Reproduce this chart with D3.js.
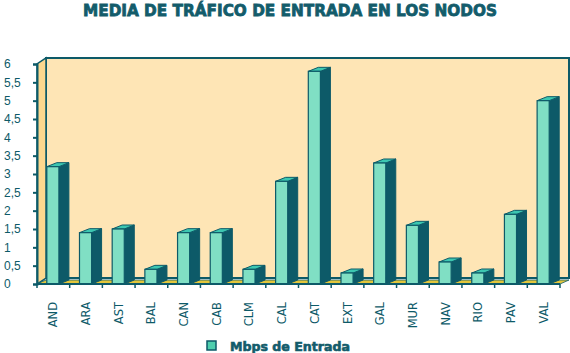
<!DOCTYPE html>
<html lang="es">
<head>
<meta charset="UTF-8">
<title>Media de tráfico de entrada en los nodos</title>
<script src="https://d3js.org/d3.v7.min.js"></script>
<style>
  body { margin: 0; background: #fff; }
  svg { display: block; font-family: "DejaVu Sans", Verdana, sans-serif; }
</style>
</head>
<body>
<div id="chart"></div>
<script>
// data
const nodos = ["AND", "ARA", "AST", "BAL", "CAN", "CAB", "CLM", "CAL", "CAT", "EXT", "GAL", "MUR", "NAV", "RIO", "PAV", "VAL"];
const mbpsEntrada = [3.2, 1.4, 1.5, 0.4, 1.4, 1.4, 0.4, 2.8, 5.8, 0.3, 3.3, 1.6, 0.6, 0.3, 1.9, 5.0];
const yTicks = [0, 0.5, 1, 1.5, 2, 2.5, 3, 3.5, 4, 4.5, 5, 5.5, 6];

const width = 570, height = 353;
const dark = "#0d5a68";
const dx = 9, dy = -6;      // wall depth
const bdx = 10, bdy = -4;   // bar depth

const svg = d3.select("#chart").append("svg")
    .attr("width", width).attr("height", height);

const x = d3.scaleBand().domain(nodos).range([37, 560]);
const y = d3.scaleLinear().domain([0, 6]).range([284, 64]);
const x0 = x.range()[0], x1 = x.range()[1], y0 = y(0), yTop = y(6);

const pts = a => a.map(p => p.join(",")).join(" ");

// walls
svg.append("polygon")
    .attr("points", pts([[x0 + dx, yTop + dy], [x1 + dx, yTop + dy], [x1 + dx, y0 + dy], [x0 + dx, y0 + dy]]))
    .attr("fill", "#fee5b5").attr("stroke", dark).attr("stroke-width", 2);
svg.append("polygon")
    .attr("points", pts([[x0, y0], [x0, yTop], [x0 + dx, yTop + dy], [x0 + dx, y0 + dy]]))
    .attr("fill", "#fdd88e").attr("stroke", dark).attr("stroke-width", 1.5);
// floor
svg.append("polygon")
    .attr("points", pts([[x0, y0], [x1, y0], [x1 + dx, y0 + dy + 2], [x0 + dx, y0 + dy + 2]]))
    .attr("fill", "#e3c63c").attr("stroke", dark).attr("stroke-width", 0.8);

// bars
const bw = x.bandwidth();
const bars = svg.append("g").selectAll("g")
    .data(nodos.map((n, i) => ({ n, v: mbpsEntrada[i] })))
    .join("g");

const bx = d => x(d.n) + bw * 0.3;
const fw = bw * 0.37;

bars.append("polygon") // side
    .attr("points", d => pts([[bx(d) + fw, y0], [bx(d) + fw, y(d.v)], [bx(d) + fw + bdx, y(d.v) + bdy], [bx(d) + fw + bdx, y0 + bdy]]))
    .attr("fill", dark).attr("stroke", dark).attr("stroke-width", 1);
bars.append("polygon") // top
    .attr("points", d => pts([[bx(d), y(d.v)], [bx(d) + fw, y(d.v)], [bx(d) + fw + bdx, y(d.v) + bdy], [bx(d) + bdx, y(d.v) + bdy]]))
    .attr("fill", "#3cc7b1").attr("stroke", dark).attr("stroke-width", 1);
bars.append("rect") // front
    .attr("x", bx).attr("y", d => y(d.v))
    .attr("width", fw).attr("height", d => y0 - y(d.v))
    .attr("fill", "#80dfc4").attr("stroke", dark).attr("stroke-width", 1.2);

// y axis
const yAxis = svg.append("g").attr("transform", `translate(${x0},0)`)
    .call(d3.axisLeft(y).tickValues(yTicks).tickSize(4).tickPadding(6)
        .tickFormat(d => String(d).replace(".", ",")));
yAxis.select(".domain").attr("stroke", dark).attr("stroke-width", 2);
yAxis.selectAll(".tick line").attr("stroke", dark).attr("stroke-width", 2);
yAxis.selectAll(".tick text")
    .attr("text-anchor", "start").attr("x", 4 - x0)
    .attr("fill", dark).style("font-size", "12px");

// x axis
const xAxis = svg.append("g");
xAxis.append("line")
    .attr("x1", x0).attr("x2", x1).attr("y1", y0).attr("y2", y0)
    .attr("stroke", dark).attr("stroke-width", 2);
xAxis.selectAll(".tk").data(nodos.map(n => x(n)).concat([x1]))
    .join("line")
    .attr("x1", d => d).attr("x2", d => d).attr("y1", y0).attr("y2", y0 + 4)
    .attr("stroke", dark).attr("stroke-width", 1.5);
xAxis.selectAll("text").data(nodos).join("text")
    .attr("transform", d => `translate(${x(d) + bw / 2 + 4},${302}) rotate(-90)`)
    .attr("text-anchor", "end")
    .attr("fill", dark)
    .style("font-size", "11.5px")
    .text(d => d);

// title
svg.append("text")
    .attr("x", 290).attr("y", 16)
    .attr("text-anchor", "middle")
    .attr("fill", "#135c6b").attr("stroke", "#135c6b").attr("stroke-width", 0.8)
    .attr("textLength", 414).attr("lengthAdjust", "spacingAndGlyphs")
    .style("font-size", "16px").style("font-weight", "900")
    .text("MEDIA DE TRÁFICO DE ENTRADA EN LOS NODOS");

// legend
const leg = svg.append("g").attr("transform", "translate(207,341)");
leg.append("rect").attr("width", 9).attr("height", 9)
    .attr("fill", "#4ecfae").attr("stroke", dark).attr("stroke-width", 1.5);
leg.append("text").attr("x", 23).attr("y", 9.5)
    .attr("fill", "#135c6b").attr("stroke", "#135c6b").attr("stroke-width", 0.6)
    .attr("textLength", 120).attr("lengthAdjust", "spacingAndGlyphs")
    .style("font-size", "12px").style("font-weight", "900")
    .text("Mbps de Entrada");
</script>
</body>
</html>
